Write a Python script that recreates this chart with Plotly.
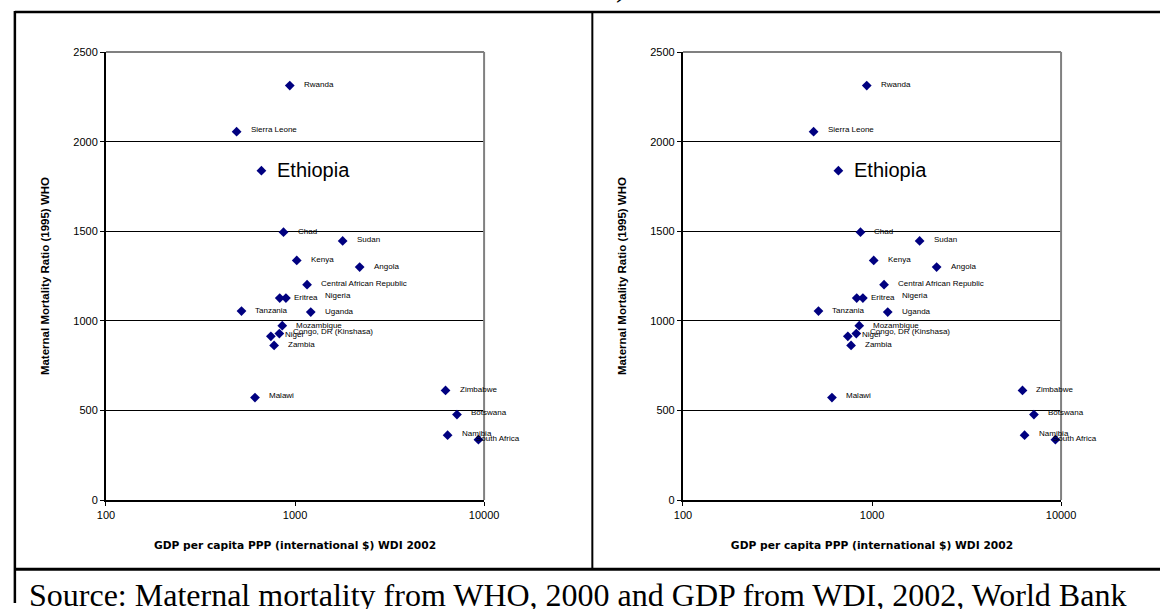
import numpy as np
import plotly.graph_objects as go

# ---------------- data ----------------
countries = ["Rwanda", "Sierra Leone", "Ethiopia", "Chad", "Sudan", "Kenya", "Angola",
             "Central African Republic", "Eritrea", "Nigeria", "Tanzania", "Uganda",
             "Mozambique", "Congo, DR (Kinshasa)", "Niger", "Zambia", "Malawi",
             "Zimbabwe", "Botswana", "Namibia", "South Africa"]
gdp_ppp = [938, 491, 664, 869, 1786, 1021, 2197, 1158, 830, 895, 521, 1211,
           856, 826, 745, 775, 614, 6252, 7187, 6412, 9333]
mmr_1995 = [2313, 2056, 1838, 1495, 1446, 1337, 1300, 1202, 1127, 1127, 1055, 1049,
            973, 929, 914, 863, 572, 612, 477, 362, 337]
x_ticks = [100, 1000, 10000]
y_ticks = [0, 500, 1000, 1500, 2000, 2500]
x_title = "GDP per capita PPP (international $) WDI 2002"
y_title = "Maternal Mortality Ratio (1995) WHO"
source_text = "Source: Maternal mortality from WHO, 2000 and GDP from WDI, 2002, World Bank"
cut_text = ")"

# label offsets (pixels, dx to text start, dy positive = up) -- styling only
label_dx = [15, 15, 17, 15, 15, 15, 15, 15, 15.5, 40.5, 15, 15, 15, 15, 15, 15, 15, 15, 15, 15, -1]
label_dy = [1.5, 2, 1, 1, 1.3, 1.3, 0.7, 1.3, 1, 2.4, 1, 1, 0.7, 2, 1.7, 1, 1.6, 0.7, 1.7, 1.7, 1.5]
big_label = "Ethiopia"

W, H = 1175, 609

def fx(p):
    return p / W

def fy(p):
    return 1 - p / H

fig = go.Figure()

panels = [("x", "y", 99, 485), ("x2", "y2", 688, 1074)]
annotations = []
shapes = []
for i, (xr, yr, left, right) in enumerate(panels):
    fig.add_trace(go.Scatter(
        x=gdp_ppp, y=mmr_1995, mode="markers", xaxis=xr, yaxis=yr,
        marker=dict(symbol="diamond", size=7.5, color="#000080", line=dict(width=0)),
        showlegend=False, hoverinfo="skip"))
    axis_suffix = "" if i == 0 else "2"
    common_x = dict(type="log", range=[2, 4], domain=[fx(left), fx(right)],
                    tickvals=x_ticks, ticktext=[str(v) for v in x_ticks],
                    ticks="outside", ticklen=4, tickwidth=1, tickcolor="black",
                    showline=True, linecolor="black", linewidth=2,
                    showgrid=False, zeroline=False,
                    tickfont=dict(family="Arial, Liberation Sans", size=11, color="black"),
                    anchor=yr,
                    title=dict(text=x_title, standoff=21,
                               font=dict(family="DejaVu Sans", size=10.7, color="black", weight="bold")))
    common_y = dict(range=[0, 2500], domain=[fy(504), fy(47)],
                    tickvals=y_ticks, ticks="outside", ticklen=4, tickwidth=1, tickcolor="black",
                    showline=True, linecolor="black", linewidth=2,
                    showgrid=True, gridcolor="black", gridwidth=1, zeroline=False,
                    tickfont=dict(family="Arial, Liberation Sans", size=11, color="black"),
                    anchor=xr,
                    title=dict(text=y_title, standoff=21,
                               font=dict(family="Arial, Liberation Sans", size=11.5, color="black", weight="bold")))
    fig.update_layout(**{"xaxis" + axis_suffix: common_x, "yaxis" + axis_suffix: common_y})

    for c, g, m, dx, dy in zip(countries, gdp_ppp, mmr_1995, label_dx, label_dy):
        big = (c == big_label)
        annotations.append(dict(
            x=np.log10(g), y=m, xref=xr, yref=yr, text=c, showarrow=False,
            xanchor="left", yanchor="middle", xshift=dx - 2, yshift=dy,
            borderpad=0,
            font=dict(family="Arial, Liberation Sans", size=20 if big else 8, color="black")))

    # gray top and right plot-area borders
    shapes.append(dict(type="line", xref="paper", yref="paper",
                       x0=fx(left), x1=fx(right), y0=fy(47), y1=fy(47),
                       line=dict(color="#808080", width=2), layer="above"))
    shapes.append(dict(type="line", xref="paper", yref="paper",
                       x0=fx(right), x1=fx(right), y0=fy(47), y1=fy(504),
                       line=dict(color="#808080", width=2), layer="above"))

# frame lines
frame = [
    (6, 6, 1175, 6, 2.5),      # top
    (6, 5, 6, 609, 2.5),       # left
    (595.5, 5, 595.5, 574, 2), # divider
    (6, 574.5, 1175, 574.5, 3) # bottom of charts row
]
for x0, y0, x1, y1, w in frame:
    shapes.append(dict(type="line", xref="paper", yref="paper",
                       x0=fx(x0), x1=fx(x1), y0=fy(y0), y1=fy(y1),
                       line=dict(color="black", width=w), layer="above"))

annotations.append(dict(
    x=fx(19), y=fy(581), xref="paper", yref="paper", text=source_text,
    showarrow=False, xanchor="left", yanchor="top", borderpad=0,
    font=dict(family="Liberation Serif, Times New Roman", size=32, color="black")))

# fragment of the cut-off line above the frame
annotations.append(dict(
    x=fx(619), y=fy(-2), xref="paper", yref="paper", text=cut_text,
    showarrow=False, xanchor="left", yanchor="bottom", borderpad=0,
    font=dict(family="Liberation Serif, Times New Roman", size=32, color="black")))

fig.update_layout(
    width=W, height=H, margin=dict(l=0, r=0, t=0, b=0),
    paper_bgcolor="white", plot_bgcolor="white",
    annotations=annotations, shapes=shapes, showlegend=False)

fig.write_html("out.html", config={"displayModeBar": False},
               post_script="document.body.style.margin='0';document.body.style.overflow='hidden';")
